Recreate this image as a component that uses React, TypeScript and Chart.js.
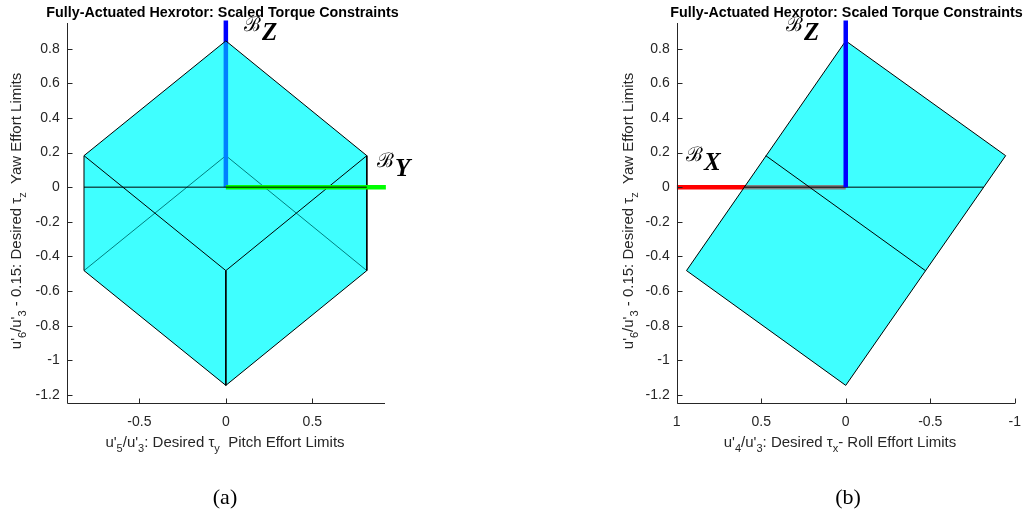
import React, { useEffect, useRef } from 'react';
import { Chart, registerables } from 'chart.js';

Chart.register(...registerables);

// ---------- data ----------
const TITLE = 'Fully-Actuated Hexrotor: Scaled Torque Constraints';
const Y_TICKS = [-1.2, -1, -0.8, -0.6, -0.4, -0.2, 0, 0.2, 0.4, 0.6, 0.8];
const Y_MIN = -1.245;
const Y_MAX = 0.95;

// panel (a): pitch / yaw projection
const A_X_TICKS = [-0.5, 0, 0.5];
const A_X_MIN = -0.92;
const A_X_MAX = 0.92;
const A_HEX_X = [0, 0.815, 0.815, 0, -0.82, -0.82, 0];
const A_HEX_Y = [0.845, 0.182, -0.482, -1.145, -0.482, 0.182, 0.845];
const A_BACK_X = [-0.82, 0, 0.815, NaN, 0, 0];
const A_BACK_Y = [-0.482, 0.182, -0.482, NaN, 0.182, 0.845];
const A_FRONT_X = [-0.82, 0, 0.815, NaN, 0, 0];
const A_FRONT_Y = [0.182, -0.482, 0.182, NaN, -0.482, -1.145];
const A_ZERO_X = [-0.82, 0.815];
const A_ZERO_Y = [0, 0];
const A_ZAXIS_X = [0, 0];
const A_ZAXIS_Y = [0, 0.963];
const A_YAXIS_X = [0, 0.925];
const A_YAXIS_Y = [0, 0];

// panel (b): roll / yaw projection
const B_X_TICKS = [1, 0.5, 0, -0.5, -1];
const B_X_MIN = -1;
const B_X_MAX = 1;
const B_BOX_X = [0, -0.946, 0, 0.942, 0];
const B_BOX_Y = [0.845, 0.182, -1.145, -0.482, 0.845];
const B_FRONT_X = [0.473, -0.471];
const B_FRONT_Y = [0.182, -0.482];
const B_ZERO_X = [0.6, -0.815];
const B_ZERO_Y = [0, 0];
const B_XAXIS_X = [1, 0];
const B_XAXIS_Y = [0, 0];
const B_ZAXIS_X = [0, 0];
const B_ZAXIS_Y = [0, 0.963];

// ---------- styles ----------
const SANS = '"Liberation Sans", Arial, Helvetica, sans-serif';
const SERIF = '"Liberation Serif", "Times New Roman", serif';
const AX = '#262626';
const CYAN = 'rgba(0,255,255,0.5)';
const TICK_LEN = 5;
const LABEL_SIZE = 15;

type Run = { t: string; sub?: boolean };

const pts = (xs: number[], ys: number[]) => xs.map((x, i) => ({ x, y: ys[i] }));

function poly(xs: number[], ys: number[], border: boolean) {
  return {
    data: pts(xs, ys),
    showLine: true,
    fill: 'shape',
    backgroundColor: CYAN,
    borderColor: border ? '#000000' : 'rgba(0,0,0,0)',
    borderWidth: border ? 1 : 0,
    pointRadius: 0,
    pointHoverRadius: 0,
    tension: 0,
  };
}

function seg(xs: number[], ys: number[], color: string, width: number, clip = true) {
  const d: any = {
    data: pts(xs, ys),
    showLine: true,
    fill: false,
    borderColor: color,
    borderWidth: width,
    borderCapStyle: 'butt',
    pointRadius: 0,
    pointHoverRadius: 0,
    spanGaps: false,
    tension: 0,
  };
  if (!clip) d.clip = false;
  return d;
}

function drawRuns(ctx: CanvasRenderingContext2D, runs: Run[], x: number, y: number, size: number, align: 'left' | 'center') {
  const main = `${size}px ${SANS}`;
  const sub = `${Math.round(size * 0.72)}px ${SANS}`;
  let total = 0;
  const widths = runs.map((r) => {
    ctx.font = r.sub ? sub : main;
    const w = ctx.measureText(r.t).width;
    total += w;
    return w;
  });
  let cx = align === 'center' ? x - total / 2 : x;
  ctx.textAlign = 'left';
  ctx.textBaseline = 'alphabetic';
  runs.forEach((r, i) => {
    ctx.font = r.sub ? sub : main;
    ctx.fillText(r.t, cx, y + (r.sub ? size * 0.32 : 0));
    cx += widths[i];
  });
}

type Basis = { letter: string; x: number; y: number };

type Panel = {
  key: string;
  offset: number;
  xMin: number;
  xMax: number;
  reverse: boolean;
  xTicks: number[];
  padLeftAxis: number;
  padRight: number;
  datasets: any[];
  titleX: number;
  xLabel: Run[];
  xLabelX: number;
  yLabelX: number;
  yLabelY: number;
  basis: Basis[];
  tag: string;
  tagX: number;
};

const Y_LABEL: Run[] = [
  { t: "u'" }, { t: '6', sub: true }, { t: "/u'" }, { t: '3', sub: true },
  { t: ' - 0.15: Desired ' }, { t: 'τ' }, { t: 'z', sub: true }, { t: '  Yaw Effort Limits' },
];

function withOrder(list: any[]) {
  const n = list.length;
  return list.map((d, i) => ({ ...d, order: n - i }));
}

const PANELS: Panel[] = [
  {
    key: 'a',
    offset: 0,
    xMin: A_X_MIN,
    xMax: A_X_MAX,
    reverse: false,
    xTicks: A_X_TICKS,
    padLeftAxis: 66.7,
    padRight: 131,
    datasets: withOrder([
      poly(A_HEX_X, A_HEX_Y, false),
      seg(A_BACK_X, A_BACK_Y, '#000000', 1),
      seg(A_ZAXIS_X, A_ZAXIS_Y, '#0000ff', 4.5, false),
      poly(A_HEX_X, A_HEX_Y, true),
      seg(A_FRONT_X, A_FRONT_Y, '#000000', 1),
      seg(A_YAXIS_X, A_YAXIS_Y, '#00ff00', 4.5, false),
      seg(A_ZERO_X, A_ZERO_Y, '#000000', 1),
    ]),
    titleX: 222.5,
    xLabel: [
      { t: "u'" }, { t: '5', sub: true }, { t: "/u'" }, { t: '3', sub: true },
      { t: ': Desired ' }, { t: 'τ' }, { t: 'y', sub: true }, { t: '  Pitch Effort Limits' },
    ],
    xLabelX: 225,
    yLabelX: 21,
    yLabelY: 211,
    basis: [
      { letter: 'Z', x: 244, y: 40 },
      { letter: 'Y', x: 377, y: 176 },
    ],
    tag: '(a)',
    tagX: 225,
  },
  {
    key: 'b',
    offset: 516,
    xMin: B_X_MIN,
    xMax: B_X_MAX,
    reverse: true,
    xTicks: B_X_TICKS,
    padLeftAxis: 160.7,
    padRight: 10,
    datasets: withOrder([
      poly(B_BOX_X, B_BOX_Y, false),
      seg(B_XAXIS_X, B_XAXIS_Y, '#ff0000', 4.5),
      poly(B_BOX_X, B_BOX_Y, true),
      seg(B_FRONT_X, B_FRONT_Y, '#000000', 1),
      seg(B_ZERO_X, B_ZERO_Y, '#000000', 1),
      seg(B_ZAXIS_X, B_ZAXIS_Y, '#0000ff', 4.5, false),
    ]),
    titleX: 846.5,
    xLabel: [
      { t: "u'" }, { t: '4', sub: true }, { t: "/u'" }, { t: '3', sub: true },
      { t: ': Desired ' }, { t: 'τ' }, { t: 'x', sub: true }, { t: '- Roll Effort Limits' },
    ],
    xLabelX: 840,
    yLabelX: 633,
    yLabelY: 211,
    basis: [
      { letter: 'Z', x: 786, y: 40 },
      { letter: 'X', x: 686, y: 170 },
    ],
    tag: '(b)',
    tagX: 848,
  },
];

const fmt = (v: number) => String(Math.round(v * 10) / 10);

function makeDecor(p: Panel) {
  return {
    id: 'decor_' + p.key,
    afterDraw(chart: any) {
      const { ctx, chartArea: a, scales } = chart;
      const o = p.offset;
      ctx.save();
      // axes lines + inward ticks
      ctx.strokeStyle = AX;
      ctx.lineWidth = 1;
      const L = Math.round(a.left) + 0.5;
      const B = Math.round(a.bottom) + 0.5;
      ctx.beginPath();
      ctx.moveTo(L, Math.round(a.top));
      ctx.lineTo(L, B);
      ctx.lineTo(Math.round(a.right), B);
      for (const v of Y_TICKS) {
        const y = Math.round(scales.y.getPixelForValue(v)) + 0.5;
        ctx.moveTo(L, y);
        ctx.lineTo(L + TICK_LEN, y);
      }
      for (const v of p.xTicks) {
        const x = Math.round(scales.x.getPixelForValue(v)) + 0.5;
        ctx.moveTo(x, B);
        ctx.lineTo(x, B - TICK_LEN);
      }
      ctx.stroke();

      // title
      ctx.fillStyle = '#000000';
      ctx.font = `bold 14.3px ${SANS}`;
      ctx.textAlign = 'center';
      ctx.textBaseline = 'alphabetic';
      ctx.fillText(TITLE, p.titleX - o, 17);

      // axis labels
      ctx.fillStyle = AX;
      drawRuns(ctx, p.xLabel, p.xLabelX - o, 447, LABEL_SIZE, 'center');
      ctx.save();
      ctx.translate(p.yLabelX - o, p.yLabelY);
      ctx.rotate(-Math.PI / 2);
      drawRuns(ctx, Y_LABEL, 0, 0, LABEL_SIZE, 'center');
      ctx.restore();

      // basis vector labels
      ctx.fillStyle = '#000000';
      for (const b of p.basis) {
        ctx.textAlign = 'left';
        ctx.font = `20px "DejaVu Serif", ${SERIF}`;
        const w = ctx.measureText('ℬ').width;
        ctx.fillText('ℬ', b.x - o, b.y - 9);
        ctx.font = `bold italic 25px ${SERIF}`;
        ctx.fillText(b.letter, b.x - o + w + 1, b.y);
      }

      // panel tag
      ctx.font = `22px ${SERIF}`;
      ctx.textAlign = 'center';
      ctx.fillText(p.tag, p.tagX - o, 504);
      ctx.restore();
    },
  };
}

function makeConfig(p: Panel): any {
  return {
    type: 'scatter',
    data: { datasets: p.datasets },
    options: {
      animation: false,
      responsive: false,
      devicePixelRatio: 1,
      events: [],
      layout: { padding: { left: 0, top: 22.7, right: p.padRight, bottom: 0 } },
      plugins: { legend: { display: false }, tooltip: { enabled: false }, title: { display: false } },
      scales: {
        x: {
          type: 'linear',
          min: p.xMin,
          max: p.xMax,
          reverse: p.reverse,
          grid: { display: false, drawTicks: false },
          border: { display: false },
          afterBuildTicks: (s: any) => {
            s.ticks = p.xTicks.map((v) => ({ value: v }));
          },
          afterFit: (s: any) => {
            s.height = 122.3;
          },
          ticks: {
            padding: 11,
            color: AX,
            font: { family: SANS, size: 14 },
            maxRotation: 0,
            autoSkip: false,
            callback: (v: number) => fmt(v),
          },
        },
        y: {
          type: 'linear',
          min: Y_MIN,
          max: Y_MAX,
          grid: { display: false, drawTicks: false },
          border: { display: false },
          afterBuildTicks: (s: any) => {
            s.ticks = Y_TICKS.map((v) => ({ value: v }));
          },
          afterFit: (s: any) => {
            s.width = p.padLeftAxis;
          },
          ticks: {
            padding: 7,
            color: AX,
            font: { family: SANS, size: 14 },
            autoSkip: false,
            callback: (v: number) => fmt(v),
          },
        },
      },
    },
    plugins: [makeDecor(p)],
  };
}

function PanelChart({ p }: { p: Panel }) {
  const ref = useRef<HTMLCanvasElement>(null);
  useEffect(() => {
    const chart = new Chart(ref.current as HTMLCanvasElement, makeConfig(p));
    return () => chart.destroy();
  }, [p]);
  return (
    <canvas
      ref={ref}
      width={516}
      height={525}
      style={{ position: 'absolute', left: p.offset, top: 0, width: 516, height: 525 }}
    />
  );
}

export default function App() {
  return (
    <div style={{ position: 'fixed', left: 0, top: 0, width: 1032, height: 525, background: '#ffffff' }}>
      {PANELS.map((p) => (
        <PanelChart key={p.key} p={p} />
      ))}
    </div>
  );
}
